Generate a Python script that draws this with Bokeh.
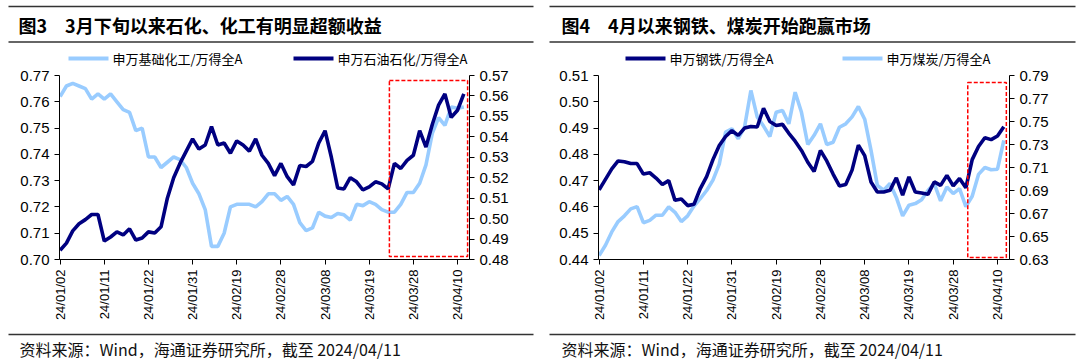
from bokeh.plotting import figure
from bokeh.layouts import row, column
from bokeh.models import (Range1d, LinearAxis, FixedTicker, PrintfTickFormatter,
                          BoxAnnotation)
from bokeh.core.properties import value
from bokeh.embed import file_html
from bokeh.resources import INLINE

# ---------------- data ----------------
dates = ["24/01/02", "24/01/11", "24/01/22", "24/01/31", "24/02/19",
         "24/02/28", "24/03/08", "24/03/19", "24/03/28", "24/04/10"]
tick_idx = [0, 7, 14, 21, 28, 35, 42, 49, 56, 63]

chem = [0.762, 0.766, 0.767, 0.766, 0.765, 0.761, 0.763, 0.761, 0.763, 0.760,
        0.757, 0.756, 0.749, 0.750, 0.739, 0.739, 0.735, 0.737, 0.739, 0.738,
        0.735, 0.729, 0.725, 0.719, 0.705, 0.705, 0.710, 0.720, 0.721, 0.721,
        0.721, 0.720, 0.722, 0.725, 0.725, 0.7225, 0.724, 0.721, 0.714, 0.711,
        0.712, 0.718, 0.7165, 0.716, 0.7175, 0.717, 0.715, 0.721, 0.7205, 0.722,
        0.721, 0.719, 0.718, 0.718, 0.721, 0.7255, 0.7255, 0.729, 0.736, 0.748,
        0.754, 0.751, 0.758, 0.7575, 0.758]
petro = [0.4845, 0.488, 0.494, 0.4975, 0.4995, 0.502, 0.502, 0.489, 0.491, 0.4935,
         0.492, 0.495, 0.4895, 0.4905, 0.4935, 0.493, 0.496, 0.510, 0.520, 0.527,
         0.533, 0.539, 0.534, 0.536, 0.545, 0.536, 0.537, 0.532, 0.538, 0.536,
         0.533, 0.539, 0.531, 0.527, 0.521, 0.527, 0.5205, 0.5165, 0.526, 0.5255,
         0.528, 0.537, 0.543, 0.530, 0.515, 0.5145, 0.520, 0.518, 0.514, 0.5155,
         0.518, 0.517, 0.5145, 0.527, 0.5245, 0.5285, 0.531, 0.543, 0.535, 0.546,
         0.5555, 0.561, 0.5495, 0.553, 0.561]
steel = [0.4665, 0.4705, 0.4745, 0.4775, 0.4772, 0.4765, 0.4765, 0.4725, 0.4730, 0.4710,
         0.4685, 0.4700, 0.4625, 0.4630, 0.4605, 0.4610, 0.4670, 0.4715, 0.4780, 0.4834,
         0.4868, 0.4890, 0.4872, 0.4900, 0.4906, 0.4904, 0.4975, 0.4925, 0.4910, 0.4914,
         0.4880, 0.4850, 0.4815, 0.4770, 0.4735, 0.4815, 0.4775, 0.4725, 0.4680, 0.4685,
         0.4740, 0.4835, 0.4795, 0.4695, 0.4657, 0.4657, 0.4663, 0.4711, 0.4645, 0.4714,
         0.4657, 0.4653, 0.4648, 0.4695, 0.4682, 0.4720, 0.4680, 0.4708, 0.4673, 0.4780,
         0.4830, 0.4863, 0.4856, 0.4870, 0.4905]
coal = [0.6335, 0.6424, 0.6540, 0.6630, 0.6680, 0.6740, 0.6760, 0.6620, 0.6640, 0.6685,
        0.6685, 0.6757, 0.6710, 0.6630, 0.6680, 0.6765, 0.6830, 0.6900, 0.6990, 0.7130,
        0.7408, 0.7437, 0.7350, 0.7452, 0.7770, 0.7540, 0.7460, 0.7370, 0.7580, 0.7596,
        0.7480, 0.7755, 0.7580, 0.7300, 0.7380, 0.7480, 0.7300, 0.7320, 0.7450, 0.7480,
        0.7540, 0.7630, 0.7520, 0.7249, 0.6945, 0.6902, 0.6960, 0.6840, 0.6680, 0.6772,
        0.6786, 0.6820, 0.6900, 0.6960, 0.6810, 0.6930, 0.6873, 0.6916, 0.6760, 0.6850,
        0.7040, 0.7100, 0.7080, 0.7085, 0.7336]
idx = list(range(len(chem)))

titles = ["图3\u30003月下旬以来石化、化工有明显超额收益", "图4\u30004月以来钢铁、煤炭开始跑赢市场"]
source = "资料来源：Wind，海通证券研究所，截至 2024/04/11"
legend_names = ["申万基础化工/万得全A", "申万石油石化/万得全A", "申万钢铁/万得全A", "申万煤炭/万得全A"]

DARK = "#000080"
LIGHT = "#99CCFF"
legend_colors = [LIGHT, DARK, DARK, LIGHT]
CJK = "Noto Sans CJK SC"
NUM = "Liberation Sans"

TOTAL_W = 1080
W = 540
H_HEAD, H_CHART, H_FOOT = 67, 259, 34


def blank(h):
    f = figure(width=TOTAL_W, height=h, output_backend="svg", toolbar_location=None,
               x_range=Range1d(0, TOTAL_W), y_range=Range1d(h, 0),
               min_border=0, outline_line_color=None)
    f.axis.visible = False
    f.grid.visible = False
    return f


# ---------------- header (titles, rules, legend keys) ----------------
head = blank(H_HEAD)
rule_x0 = [8, 549]
rule_x1 = [533, 1075]
head.segment(x0=rule_x0, x1=rule_x1, y0=[6, 6], y1=[6, 6],
             line_color="#333333", line_width=1.5)
head.segment(x0=rule_x0, x1=rule_x1, y0=[41.5, 41.5], y1=[41.5, 41.5],
             line_color="#333333", line_width=1.5)
head.text(x=[18, 561], y=[24.5, 24.5], text=titles, text_font=value(CJK),
          text_font_size="18px", text_font_style="bold", text_baseline="middle",
          text_color="black")
key_x0 = [68, 293, 625, 842]
head.segment(x0=key_x0, x1=[k + 40 for k in key_x0], y0=[58] * 4, y1=[58] * 4,
             line_color=legend_colors, line_width=4)
head.text(x=[k + 44 for k in key_x0], y=[57.5] * 4, text=legend_names,
          text_font=value(CJK), text_font_size="13px", text_baseline="middle",
          text_color="black")

# ---------------- footer ----------------
foot = blank(H_FOOT)
foot.segment(x0=rule_x0, x1=rule_x1, y0=[8, 8], y1=[8, 8],
             line_color="#333333", line_width=1.5)
foot.text(x=[19, 561], y=[22, 22], text=[source, source], text_font=value(CJK),
          text_font_size="16px", text_baseline="middle", text_color="#111111")


def make_panel(s1, s1_color, s1_axis, s2, s2_color, s2_axis,
               left_rng, right_rng, left_ticks, right_ticks, box, bl, br):
    p = figure(width=W, height=H_CHART, output_backend="svg", toolbar_location=None,
               x_range=Range1d(-0.1, 64.9), y_range=Range1d(*left_rng),
               min_border_left=bl, min_border_right=br, min_border_top=8,
               min_border_bottom=67)
    p.extra_y_ranges = {"r": Range1d(*right_rng)}
    p.outline_line_color = None
    p.xgrid.visible = False
    p.ygrid.visible = False

    def style(ax):
        ax.axis_line_color = "black"
        ax.major_tick_line_color = "black"
        ax.minor_tick_line_color = None
        ax.major_tick_in = 0
        ax.major_tick_out = 5
        ax.major_label_text_font = NUM
        ax.major_label_text_color = "black"

    xa = p.xaxis[0]
    xa.ticker = FixedTicker(ticks=tick_idx)
    xa.major_label_overrides = {i: d for i, d in zip(tick_idx, dates)}
    xa.major_label_orientation = 1.5708
    xa.major_label_text_font_size = "13px"
    style(xa)

    ya = p.yaxis[0]
    ya.ticker = FixedTicker(ticks=left_ticks)
    ya.formatter = PrintfTickFormatter(format="%.2f")
    ya.major_label_text_font_size = "15px"
    style(ya)

    ra = LinearAxis(y_range_name="r", ticker=FixedTicker(ticks=right_ticks),
                    formatter=PrintfTickFormatter(format="%.2f"))
    ra.major_label_text_font_size = "15px"
    style(ra)
    p.add_layout(ra, "right")

    r1 = p.line(idx, s1, color=s1_color, line_width=3.6,
                y_range_name=("r" if s1_axis == "r" else "default"))
    r2 = p.line(idx, s2, color=s2_color, line_width=3.6,
                y_range_name=("r" if s2_axis == "r" else "default"))
    if s1_color == DARK:
        p.renderers.remove(r1)
        p.renderers.append(r1)

    p.add_layout(BoxAnnotation(left=box[0], right=box[1], bottom=box[2], top=box[3],
                               fill_alpha=0, line_color="#FF0000", line_alpha=1,
                               line_width=1.5, line_dash="4 2", level="overlay"))
    return p


p1 = make_panel(chem, LIGHT, "l", petro, DARK, "r",
                (0.70, 0.77), (0.48, 0.57),
                [0.70, 0.71, 0.72, 0.73, 0.74, 0.75, 0.76, 0.77],
                [0.48, 0.49, 0.50, 0.51, 0.52, 0.53, 0.54, 0.55, 0.56, 0.57],
                (52.2, 64.6, 0.7011, 0.7681), 59, 71)

p2 = make_panel(steel, DARK, "l", coal, LIGHT, "r",
                (0.44, 0.51), (0.63, 0.79),
                [0.44, 0.45, 0.46, 0.47, 0.48, 0.49, 0.50, 0.51],
                [0.63, 0.65, 0.67, 0.69, 0.71, 0.73, 0.75, 0.77, 0.79],
                (58.3, 64.4, 0.4408, 0.5073), 58, 71)

layout = column(head, row(p1, p2), foot)
open("out.html", "w").write(file_html(layout, INLINE))
